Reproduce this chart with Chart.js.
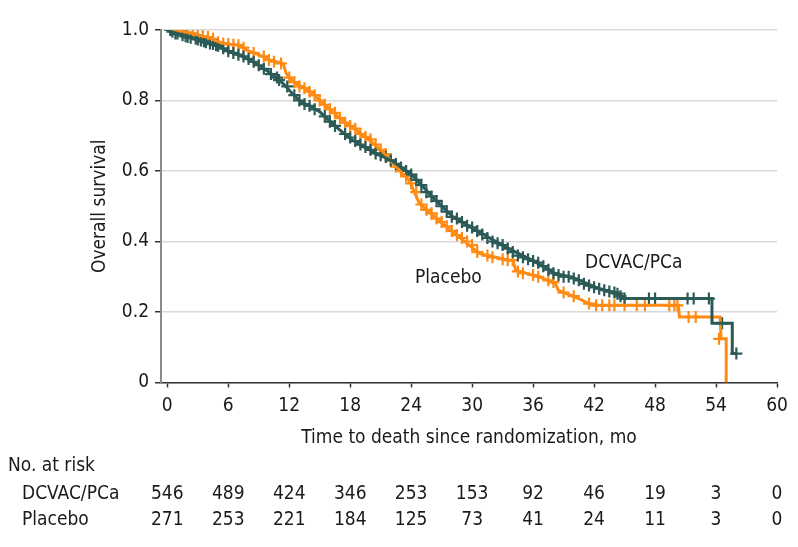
<!DOCTYPE html>
<html lang="en">
<head>
  <meta charset="UTF-8" />
  <title>Overall survival</title>
  <script src="https://cdn.jsdelivr.net/npm/chart.js"></script>
  <style>
    body { margin: 0; background: #fff; }
    canvas { display: block; }
  </style>
</head>
<body>
  <canvas id="kmChart" width="798" height="547"></canvas>

  <script>
    // axis ticks
    const xTicks = [0, 6, 12, 18, 24, 30, 36, 42, 48, 54, 60];
    const yTicks = [0, 0.2, 0.4, 0.6, 0.8, 1.0];
    const yTickLabels = ['0', '0.2', '0.4', '0.6', '0.8', '1.0'];

    // DCVAC/PCa curve (months, survival)
    const dcvacTime = [0, 1.2, 2.5, 4.2, 5.8, 7.1, 8.7, 10.0, 11.4, 12.3, 13.0, 15.0, 16.6, 18.2, 20.2, 22.2, 24.1, 26.1, 28.1, 30.4, 33.3, 35.9, 38.2, 39.8, 42.5, 44.4, 44.8, 53.6, 53.6, 55.6, 55.6, 56.0];
    const dcvacSurv = [1, 0.986, 0.977, 0.962, 0.943, 0.929, 0.905, 0.881, 0.848, 0.82, 0.80, 0.768, 0.725, 0.688, 0.655, 0.627, 0.589, 0.526, 0.47, 0.432, 0.384, 0.347, 0.309, 0.299, 0.266, 0.252, 0.238, 0.238, 0.168, 0.168, 0.082, 0.082];

    // Placebo curve
    const placeboTime = [0, 0.9, 2.5, 4.2, 5.4, 7.1, 7.8, 9.1, 10.0, 11.4, 11.7, 12.3, 14.3, 15.9, 17.6, 19.5, 21.2, 22.5, 23.8, 24.8, 26.7, 28.7, 30.7, 33.6, 34.0, 34.3, 36.6, 38.2, 38.5, 40.5, 41.5, 42.0, 50.3, 50.4, 54.4, 54.5, 55.0, 55.0];
    const placeboSurv = [1, 1, 0.99, 0.977, 0.962, 0.957, 0.943, 0.929, 0.915, 0.905, 0.877, 0.856, 0.82, 0.777, 0.735, 0.697, 0.655, 0.612, 0.574, 0.508, 0.46, 0.413, 0.366, 0.347, 0.347, 0.318, 0.30, 0.28, 0.261, 0.238, 0.224, 0.219, 0.219, 0.186, 0.186, 0.124, 0.124, 0];

    // censoring marks
    const dcvacCensorTime = [0.3, 0.5, 0.8, 1.0, 1.5, 1.8, 2.0, 2.3, 2.8, 3.0, 3.3, 3.6, 3.8, 4.2, 4.5, 4.8, 5.0, 5.5, 6.0, 6.5, 7.0, 7.5, 8.0, 8.5, 9.0, 9.5, 10.2, 10.8, 11.0, 11.8, 12.5, 13.0, 13.5, 14.0, 14.5, 15.5, 16.0, 16.5, 17.5, 18.0, 18.5, 19.0, 19.5, 20.0, 20.5, 21.0, 21.5, 22.0, 22.5, 23.0, 23.5, 24.0, 24.5, 25.0, 25.5, 26.0, 26.5, 27.0, 27.5, 28.0, 28.5, 29.0, 29.5, 30.0, 30.5, 31.0, 31.5, 32.0, 32.5, 33.0, 33.5, 34.0, 34.5, 35.0, 35.5, 36.0, 36.5, 37.0, 37.5, 38.0, 38.5, 39.0, 39.5, 40.0, 40.5, 41.0, 41.5, 42.0, 42.5, 43.0, 43.5, 44.0, 44.3, 44.6, 45.0, 47.4, 48.0, 51.2, 51.8, 53.3, 54.6, 56.0];
    const dcvacCensorSurv = [1.0, 0.995, 0.99, 0.99, 0.985, 0.982, 0.98, 0.978, 0.975, 0.973, 0.97, 0.968, 0.965, 0.962, 0.96, 0.957, 0.955, 0.948, 0.94, 0.935, 0.93, 0.925, 0.918, 0.91, 0.9, 0.89, 0.875, 0.865, 0.858, 0.84, 0.815, 0.80, 0.79, 0.785, 0.775, 0.755, 0.74, 0.728, 0.705, 0.695, 0.685, 0.675, 0.668, 0.66, 0.65, 0.645, 0.64, 0.63, 0.62, 0.61, 0.6, 0.59, 0.575, 0.56, 0.54, 0.528, 0.515, 0.50, 0.485, 0.47, 0.465, 0.455, 0.445, 0.44, 0.43, 0.42, 0.41, 0.40, 0.395, 0.39, 0.38, 0.37, 0.36, 0.355, 0.35, 0.345, 0.34, 0.33, 0.32, 0.31, 0.305, 0.30, 0.30, 0.295, 0.29, 0.28, 0.275, 0.27, 0.266, 0.262, 0.258, 0.255, 0.252, 0.245, 0.238, 0.238, 0.238, 0.238, 0.238, 0.238, 0.168, 0.082];
    const placeboCensorTime = [0.5, 1.0, 1.5, 2.0, 2.5, 3.0, 3.5, 4.0, 4.5, 5.0, 5.5, 6.0, 6.5, 7.0, 7.5, 8.5, 9.5, 10.0, 10.5, 11.2, 12.0, 12.5, 13.0, 13.5, 14.0, 14.5, 15.0, 15.5, 16.0, 16.5, 17.0, 17.5, 18.0, 18.5, 19.0, 19.5, 20.0, 20.5, 21.0, 21.5, 22.0, 22.5, 23.0, 23.5, 24.0, 24.5, 25.0, 25.5, 26.0, 26.5, 27.0, 27.5, 28.0, 28.5, 29.0, 29.5, 30.0, 30.5, 31.5, 32.0, 33.0, 33.5, 34.0, 34.5, 35.0, 36.0, 36.5, 37.5, 38.0, 39.0, 40.0, 41.5, 42.2, 42.8, 43.5, 44.0, 45.0, 46.2, 47.0, 49.4, 49.9, 50.2, 51.3, 52.0, 54.3];
    const placeboCensorSurv = [1.0, 0.998, 0.995, 0.99, 0.99, 0.985, 0.982, 0.98, 0.975, 0.965, 0.962, 0.96, 0.958, 0.957, 0.95, 0.935, 0.925, 0.915, 0.91, 0.905, 0.865, 0.852, 0.84, 0.835, 0.825, 0.815, 0.80, 0.788, 0.775, 0.765, 0.75, 0.737, 0.728, 0.72, 0.705, 0.697, 0.69, 0.675, 0.66, 0.648, 0.63, 0.612, 0.60, 0.585, 0.565, 0.54, 0.505, 0.49, 0.48, 0.465, 0.455, 0.443, 0.43, 0.418, 0.41, 0.40, 0.39, 0.37, 0.36, 0.355, 0.35, 0.347, 0.347, 0.315, 0.31, 0.305, 0.30, 0.29, 0.285, 0.255, 0.245, 0.224, 0.219, 0.219, 0.219, 0.219, 0.219, 0.219, 0.219, 0.219, 0.219, 0.219, 0.186, 0.186, 0.124];

    // number at risk
    const groups = ['DCVAC/PCa', 'Placebo'];
    const dcvacAtRisk = [546, 489, 424, 346, 253, 153, 92, 46, 19, 3, 0];
    const placeboAtRisk = [271, 253, 221, 184, 125, 73, 41, 24, 11, 3, 0];

    const TEAL = '#2b5a57';
    const ORANGE = '#ff8a14';
    const FONT = "'DejaVu Sans Condensed', 'DejaVu Sans', sans-serif";
    const INK = '#1a1a1a';

    const toPoints = (xs, ys) => xs.map((x, i) => ({ x: x, y: ys[i] }));

    // curve labels + number-at-risk table
    const extras = {
      id: 'extras',
      afterDraw(chart) {
        const ctx = chart.ctx;
        const xs = chart.scales.x, ys = chart.scales.y;
        ctx.save();
        ctx.font = '19px ' + FONT;
        ctx.fillStyle = INK;
        ctx.textBaseline = 'middle';
        ctx.textAlign = 'center';
        ctx.fillText('Placebo', xs.getPixelForValue(27.66), ys.getPixelForValue(0.297));
        ctx.fillText('DCVAC/PCa', xs.getPixelForValue(45.9), ys.getPixelForValue(0.339));

        ctx.textAlign = 'left';
        ctx.fillText('No. at risk', 8, 466);
        ctx.fillText(groups[0], 22, 494);
        ctx.fillText(groups[1], 22, 520);
        ctx.textAlign = 'center';
        xTicks.forEach((t, i) => {
          const px = xs.getPixelForValue(t);
          ctx.fillText(String(dcvacAtRisk[i]), px, 494);
          ctx.fillText(String(placeboAtRisk[i]), px, 520);
        });
        ctx.restore();
      }
    };

    new Chart(document.getElementById('kmChart'), {
      type: 'scatter',
      data: {
        datasets: [
          {
            label: 'DCVAC/PCa',
            data: toPoints(dcvacTime, dcvacSurv),
            showLine: true,
            borderColor: TEAL,
            borderWidth: 3,
            pointRadius: 0,
            fill: false
          },
          {
            label: 'Placebo',
            data: toPoints(placeboTime, placeboSurv),
            showLine: true,
            borderColor: ORANGE,
            borderWidth: 3,
            pointRadius: 0,
            fill: false
          },
          {
            label: 'DCVAC/PCa censored',
            data: toPoints(dcvacCensorTime, dcvacCensorSurv),
            showLine: false,
            pointStyle: 'cross',
            pointRadius: 6,
            pointBorderWidth: 2.2,
            borderColor: TEAL,
            backgroundColor: TEAL
          },
          {
            label: 'Placebo censored',
            data: toPoints(placeboCensorTime, placeboCensorSurv),
            showLine: false,
            pointStyle: 'cross',
            pointRadius: 6,
            pointBorderWidth: 2.2,
            borderColor: ORANGE,
            backgroundColor: ORANGE
          }
        ]
      },
      options: {
        responsive: false,
        animation: false,
        devicePixelRatio: 1,
        layout: { padding: { left: 0, right: 21, top: 30, bottom: 97 } },
        plugins: { legend: { display: false }, tooltip: { enabled: false } },
        scales: {
          x: {
            type: 'linear',
            min: -0.62,
            max: 60,
            afterBuildTicks: s => { s.ticks = xTicks.map(v => ({ value: v })); },
            afterFit: s => { s.height = 67.5; },
            border: { color: '#333', width: 1.5 },
            grid: { drawOnChartArea: false, drawTicks: true, tickLength: 5, tickColor: '#333', tickWidth: 1.5 },
            ticks: { color: INK, font: { family: FONT, size: 19 }, padding: 7, maxRotation: 0, autoSkip: false },
            title: {
              display: true,
              text: 'Time to death since randomization, mo',
              color: INK,
              font: { family: FONT, size: 19 },
              padding: { top: 0, bottom: 1 }
            }
          },
          y: {
            min: 0,
            max: 1,
            afterBuildTicks: s => { s.ticks = yTicks.map(v => ({ value: v })); },
            afterFit: s => { s.width = 161; },
            border: { color: '#8a8a8a', width: 2 },
            grid: { color: '#d9d9d9', lineWidth: 1.5, drawTicks: true, tickLength: 6, tickColor: '#333', tickWidth: 1.5 },
            ticks: {
              color: INK,
              font: { family: FONT, size: 19 },
              padding: 6,
              callback: (v, i) => yTickLabels[i]
            },
            title: {
              display: true,
              text: 'Overall survival',
              color: INK,
              font: { family: FONT, size: 19 },
              padding: { top: 89, bottom: 0 }
            }
          }
        }
      },
      plugins: [extras]
    });
  </script>
</body>
</html>
